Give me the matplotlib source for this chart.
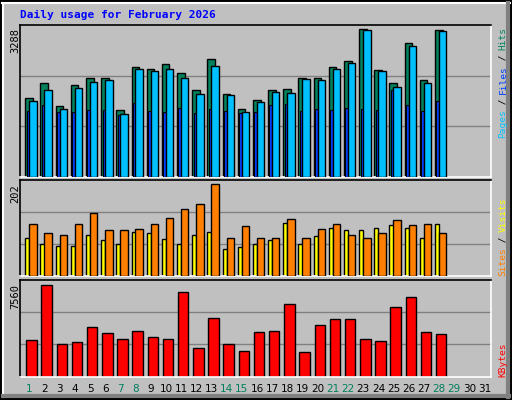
import matplotlib
matplotlib.use("Agg")
import matplotlib.pyplot as plt
from matplotlib.patches import Rectangle

days = list(range(1, 32))
hits = [1749,2084,1571,2039,2195,2195,1481,2441,2396,2508,2307,1928,2619,1838,1504,1704,1928,1950,2195,2195,2441,2575,3288,2374,2084,2976,2151,3281]
files = [1466,1593,1437,1437,1481,1481,1370,1638,1459,1437,1526,1414,1504,1459,1414,1437,1593,1615,1459,1504,1481,1526,1504,1481,1928,1593,1459,1682]
pages = [1682,1928,1504,1972,2106,2151,1392,2396,2352,2396,2195,1838,2463,1816,1437,1660,1883,1861,2173,2151,2396,2530,3266,2352,1995,2909,2084,3244]
sites = [114,94,90,114,138,101,101,103,114,129,147,158,202,83,110,85,85,125,85,103,114,90,85,96,123,112,114,94]
visits = [83,70,66,66,90,79,70,97,94,81,70,90,97,61,64,70,79,116,70,88,105,101,101,105,112,105,83,114]
kbytes = [3007,7560,2676,2842,4083,3587,3090,3752,3256,3090,6980,2345,4828,2676,2097,3670,3752,5987,2014,4249,4746,4746,3090,2925,5739,6566,3670,3504]
weekend = [1,7,8,14,15,21,22,28,29]

W, H = 512, 400
fig = plt.figure(figsize=(W/100, H/100), dpi=100)
fig.patch.set_facecolor('#C0C0C0')
bg = fig.add_axes([0, 0, 1, 1]); bg.set_xlim(0, W); bg.set_ylim(H, 0); bg.axis('off')
bg.add_patch(Rectangle((1, 1), W-2, H-2, fill=False, ec='black', lw=1.5))
bg.plot([2, W-2], [3, 3], color='white', lw=1.5)
bg.plot([3, 3], [3, H-3], color='white', lw=1.5)
bg.plot([W-4, W-4], [3, H-3], color='#808080', lw=3)
bg.plot([3, W-3], [H-4, H-4], color='#808080', lw=3)

def ax_at(x0, y0, x1, y1):
    a = fig.add_axes([x0/W, 1-y1/H, (x1-x0)/W, (y1-y0)/H])
    a.set_facecolor('#C0C0C0')
    a.set_xlim(0, 31)
    a.set_xticks([]); a.set_yticks([])
    for s in a.spines.values():
        s.set_color('black'); s.set_linewidth(1.2)
    a.spines['bottom'].set_color('white'); a.spines['right'].set_color('white')
    return a

X0, X1 = 20.3, 490.7
def grid(a, top):
    for f in (1/3, 2/3):
        a.axhline(top*f, color='#808080', lw=1, zorder=0)

# panel 1
a1 = ax_at(X0, 25, X1, 176.7)
top1 = 3288*151.7/147.4
a1.set_ylim(0, top1); grid(a1, top1)
n = len(hits)
xs = [d-1 for d in days[:n]]
a1.bar([x+0.33 for x in xs], hits, width=0.5, align='edge', color='#00805C', ec='black', lw=1, zorder=2)
a1.bar([x+0.42 for x in xs], files, width=0.2, align='edge', color='#0040FF', ec='black', lw=0.8, zorder=3)
a1.bar([x+0.59 for x in xs], pages, width=0.49, align='edge', color='#00C0FF', ec='black', lw=1, zorder=4)

# panel 2
a2 = ax_at(X0, 180.3, X1, 276.3)
top2 = 202*96/92
a2.set_ylim(0, top2); grid(a2, top2)
a2.bar([x+0.33 for x in xs], visits, width=0.27, align='edge', color='#FFFF00', ec='black', lw=1, zorder=2)
a2.bar([x+0.59 for x in xs], sites, width=0.49, align='edge', color='#FF8000', ec='black', lw=1, zorder=3)

# panel 3
a3 = ax_at(X0, 280.3, X1, 376.5)
top3 = 7560*96.2/91.4
a3.set_ylim(0, top3); grid(a3, top3)
a3.bar([x+0.39 for x in xs], kbytes, width=0.69, align='edge', color='#FF0000', ec='black', lw=1, zorder=2)

# texts
bg.text(20, 15, 'Daily usage for February 2026', color='#0000FF', fontsize=8,
        family='DejaVu Sans Mono', fontweight='bold', va='center', ha='left')
for y, lab in [(28, '3288'), (184, '202'), (284, '7560')]:
    bg.text(15, y, lab, rotation=90, fontsize=7.5, family='DejaVu Sans Mono', ha='center', va='top')
slot = (X1-X0)/31
for d in days:
    bg.text(X0 + (d-1)*slot + 0.6*slot, 389, str(d), fontsize=7.5, ha='center', va='center',
            color='#00805C' if d in weekend else 'black', family='DejaVu Sans')

cw = 5.5
def vlabel(ybottom, parts):
    y = ybottom
    for txt, col in parts:
        bg.text(503, y, txt, rotation=90, color=col, fontsize=6.8, family='DejaVu Sans Mono',
                ha='center', va='bottom')
        y -= cw*len(txt)
vlabel(138, [('Pages', '#00C0FF'), (' / ', 'black'), ('Files', '#0040FF'), (' / ', 'black'), ('Hits', '#00805C')])
vlabel(276, [('Sites', '#FF8000'), (' / ', 'black'), ('Visits', '#FFFF00')])
vlabel(377, [('KBytes', '#FF0000')])

fig.savefig('out.png', dpi=100, facecolor=fig.get_facecolor())
